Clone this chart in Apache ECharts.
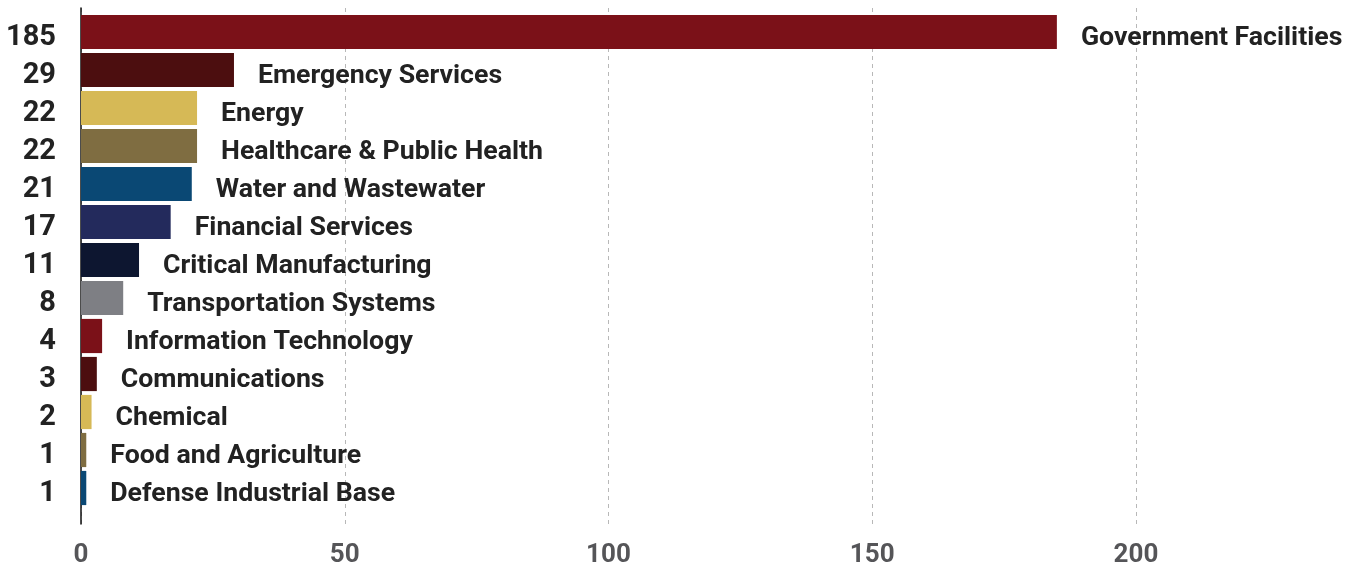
<!DOCTYPE html>
<html>
<head>
<meta charset="utf-8">
<script src="https://cdn.jsdelivr.net/npm/echarts@6/dist/echarts.min.js"></script>
<style>
  html, body { margin: 0; padding: 0; background: #ffffff; }
  #chart { width: 1357px; height: 565px; }
</style>
</head>
<body>
<div id="chart"></div>
<script>
// Incidents by critical infrastructure sector
const sectors = [
  'Government Facilities', 'Emergency Services', 'Energy', 'Healthcare & Public Health',
  'Water and Wastewater', 'Financial Services', 'Critical Manufacturing',
  'Transportation Systems', 'Information Technology', 'Communications', 'Chemical',
  'Food and Agriculture', 'Defense Industrial Base'
];
const counts = [185, 29, 22, 22, 21, 17, 11, 8, 4, 3, 2, 1, 1];
const palette = ['#7b1118', '#4c0e0f', '#d6b956', '#7f6d41', '#0a4874', '#232a5c', '#0d1630', '#7e7f84'];
const xTicks = { min: 0, max: 250, interval: 50 };

const FONT = 'Roboto';
const chart = echarts.init(document.getElementById('chart'), null, { renderer: 'canvas' });

chart.setOption({
  animation: false,
  backgroundColor: '#ffffff',
  grid: [
    // frame: dashed value gridlines, baseline and tick labels
    { left: 81, top: 8, right: -42.75, bottom: 41, containLabel: false, outerBoundsMode: 'none' },
    // bars
    { left: 81, top: 13, right: -42.75, height: 494, containLabel: false, outerBoundsMode: 'none' }
  ],
  xAxis: [
    {
      gridIndex: 0, type: 'value', min: xTicks.min, max: xTicks.max, interval: xTicks.interval,
      axisLine: { show: false }, axisTick: { show: false },
      splitLine: { show: true, lineStyle: { color: '#b8b8b8', type: [4, 4], width: 1 } },
      axisLabel: { color: '#555558', fontFamily: FONT, fontWeight: 'bold', fontSize: 26, margin: 18 }
    },
    {
      gridIndex: 1, type: 'value', min: xTicks.min, max: xTicks.max,
      show: false, splitLine: { show: false }
    }
  ],
  yAxis: [
    {
      gridIndex: 0, type: 'value', min: 0, max: 1,
      axisLine: { show: true, lineStyle: { color: '#111111', width: 1.5 } },
      axisTick: { show: false }, axisLabel: { show: false }, splitLine: { show: false }
    },
    {
      gridIndex: 1, type: 'category', data: sectors, inverse: true,
      axisLine: { show: false }, axisTick: { show: false }, splitLine: { show: false },
      axisLabel: {
        interval: 0, hideOverlap: false,
        formatter: (v, i) => '{n|' + counts[i] + '}',
        margin: 25,
        rich: {
          n: {
            color: '#222222', fontFamily: FONT, fontWeight: 'bold', fontSize: 29,
            padding: [11, 0, 0, 0]
          }
        }
      }
    }
  ],
  series: [{
    type: 'bar',
    xAxisIndex: 1, yAxisIndex: 1,
    data: counts.map((v, i) => ({ value: v, itemStyle: { color: palette[i % palette.length] } })),
    barCategoryGap: '10%',
    label: {
      show: true, position: 'right', distance: 24, offset: [0, 6],
      formatter: p => sectors[p.dataIndex],
      color: '#222222', fontFamily: FONT, fontWeight: 'bold', fontSize: 26.7
    }
  }]
});
</script>
</body>
</html>
